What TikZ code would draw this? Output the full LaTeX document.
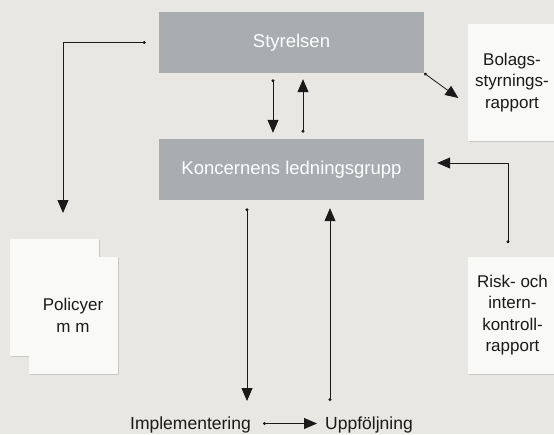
\documentclass[tikz,border=0pt]{standalone}
\usepackage{fontspec}
\setmainfont{Liberation Sans}
\usetikzlibrary{arrows.meta,positioning,shadows}
\definecolor{bg}{HTML}{E8E7E3}
\definecolor{boxc}{HTML}{A9ADAF}
\definecolor{paper}{HTML}{F9F9F7}
\definecolor{ink}{HTML}{1A1A1A}
\tikzset{
  board/.style={fill=boxc,text=white,minimum width=265pt,minimum height=61pt,inner sep=0pt,
    font=\fontsize{18.5}{20}\selectfont},
  sheet/.style={fill=paper,minimum width=89pt,minimum height=117pt,inner sep=0pt,align=center,
    text=ink,font=\fontsize{17}{21.5}\selectfont,
    drop shadow={shadow xshift=1pt,shadow yshift=-1pt,opacity=.3}},
  flow/.style={ink,line width=0.8pt,{Circle[length=3pt]}-{Triangle[length=13pt,width=11pt]}},
  lbl/.style={text=ink,inner sep=0pt,font=\fontsize{17.5}{20}\selectfont},
}
\begin{document}
\begin{tikzpicture}[x=1pt,y=-1pt]
  \fill[bg] (0,0) rectangle (554,434);
  \useasboundingbox (0,0) rectangle (554,434);
  % boxes
  \node[board] (sty) at (291.5,42.5) {Styrelsen};
  \node[board] (kon) at (291.5,169.5) {Koncernens ledningsgrupp};
  \node[sheet] (bol) at (512,82.5) {Bolags-\\styrnings-\\rapport};
  \node[sheet] (risk) at (512.5,315) {Risk- och\\intern-\\kontroll-\\rapport};
  \node[sheet] (pola) at (54,297.5) {};
  \node[sheet] (polb) at (73,315.5) {Policyer\\m m};
  % bottom labels
  \node[lbl,anchor=base east] (impl) at (251,429) {Implementering};
  \node[lbl,anchor=base west] (upp) at (325,429) {Uppföljning};
  \coordinate (polin) at (63,213);
  \coordinate (implin) at (247,401);
  \coordinate (uppout) at (330,401);
  % connectors
  \draw[flow] ([xshift=-13pt]sty.west) -| (polin);
  \draw[flow] ([xshift=-18.5pt,yshift=-6pt]sty.south) -- ([xshift=-18.5pt,yshift=6pt]kon.north);
  \draw[flow] ([xshift=11.5pt,yshift=6pt]kon.north) -- ([xshift=11.5pt,yshift=-6pt]sty.south);
  \draw[flow] (sty.south east) -- ([xshift=-9pt,yshift=-15.5pt]bol.west);
  \draw[flow] ([xshift=-4.5pt,yshift=13pt]risk.north) |- ([xshift=13pt,yshift=6.5pt]kon.east);
  \draw[flow] ([xshift=-44.5pt,yshift=-8pt]kon.south) -- (implin);
  \draw[flow] (uppout) -- ([xshift=38.5pt,yshift=-8pt]kon.south);
  \draw[flow] ([xshift=12pt,yshift=5.5pt]impl.base east) -- ([xshift=-8pt,yshift=5.5pt]upp.base west);
\end{tikzpicture}
\end{document}
